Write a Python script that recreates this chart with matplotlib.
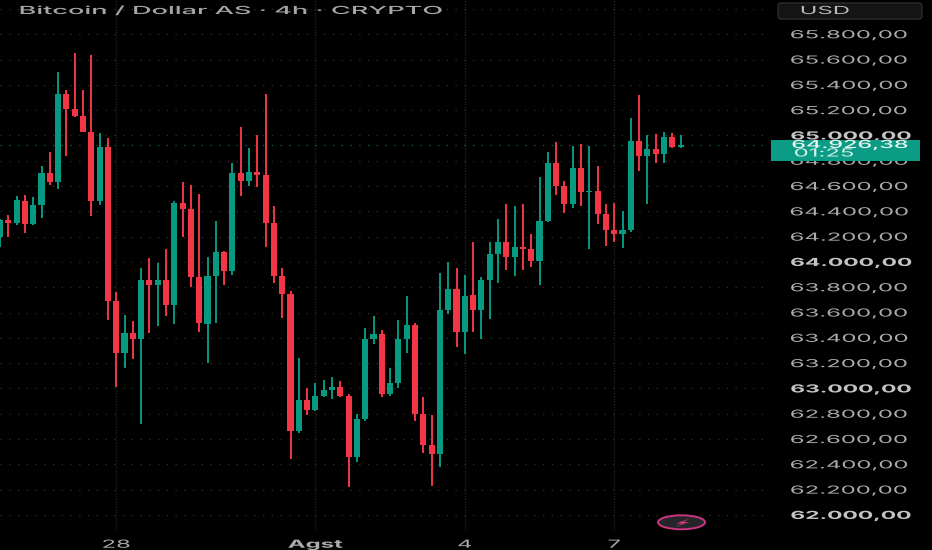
import matplotlib
matplotlib.use('Agg')
import matplotlib.pyplot as plt
import matplotlib.patheffects as pe
from matplotlib.patches import Ellipse, FancyBboxPatch, Polygon
from matplotlib.transforms import Affine2D

plt.rcParams['font.family'] = ['Inter', 'DejaVu Sans']

opens = [64200, 64330, 64310, 64480, 64300, 64450, 64700, 64630, 65330, 65210,
         65150, 65030, 64480, 64910, 63690, 63280, 63440, 63390, 63860, 63820,
         63860, 63660, 64470, 64420, 63880, 63510, 63890, 64080, 63930, 64700,
         64640, 64710, 64690, 64310, 63890, 63750, 62660, 62910, 62830, 62940,
         62990, 63010, 62940, 62460, 62760, 63390, 63430, 62960, 63040, 63390,
         63500, 62800, 62550, 62480, 63620, 63790, 63450, 63740, 63620, 63860,
         64060, 64160, 64040, 64120, 64100, 64010, 64320, 64780, 64600, 64460,
         64740, 64550, 64560, 64380, 64250, 64220, 64250, 64960, 64840, 64890,
         64850, 64990, 64910]
closes = [64330, 64310, 64490, 64300, 64450, 64700, 64630, 65330, 65210, 65150,
          65030, 64480, 64910, 63690, 63280, 63440, 63390, 63860, 63820, 63860,
          63660, 64470, 64420, 63880, 63520, 63890, 64080, 63930, 64700, 64640,
          64710, 64690, 64310, 63890, 63750, 62660, 62910, 62830, 62940, 62990,
          63010, 62940, 62460, 62760, 63390, 63430, 62960, 63040, 63390, 63500,
          62800, 62550, 62480, 63620, 63790, 63450, 63730, 63620, 63860, 64060,
          64160, 64040, 64120, 64100, 64010, 64320, 64780, 64600, 64460, 64740,
          64550, 64560, 64380, 64250, 64220, 64250, 64960, 64840, 64890, 64850,
          64990, 64910, 64926]
highs = [64340, 64370, 64520, 64530, 64510, 64760, 64870, 65500, 65360, 65650,
         65360, 65640, 65020, 64980, 63760, 63580, 63530, 63950, 64030, 63990,
         64100, 64480, 64630, 64610, 64540, 64040, 64320, 64090, 64780, 65070,
         64900, 65000, 65330, 64440, 63950, 63770, 63240, 63000, 63040, 63070,
         63090, 63060, 62960, 62800, 63480, 63570, 63460, 63160, 63540, 63730,
         63520, 62930, 62790, 63910, 64000, 63950, 63900, 64160, 63880, 64160,
         64340, 64460, 64440, 64460, 64220, 64670, 64870, 64950, 64640, 64920,
         64930, 64920, 64760, 64460, 64470, 64400, 65140, 65320, 65000, 65010,
         65030, 65020, 65000]
lows = [64120, 64200, 64290, 64230, 64290, 64350, 64610, 64580, 64840, 65145,
        65025, 64360, 64450, 63540, 63010, 63160, 63230, 62720, 63440, 63490,
        63570, 63510, 64200, 63800, 63450, 63200, 63520, 63820, 63900, 64520,
        64600, 64590, 64120, 63830, 63560, 62440, 62650, 62790, 62820, 62930,
        62920, 62935, 62220, 62420, 62740, 63350, 62930, 62940, 63000, 63280,
        62740, 62490, 62230, 62380, 63590, 63330, 63270, 63450, 63390, 63550,
        63830, 63940, 63890, 63940, 63960, 63820, 64315, 64530, 64390, 64430,
        64440, 64100, 64300, 64130, 64160, 64110, 64240, 64720, 64460, 64780,
        64780, 64900, 64900]

price_ticks = list(range(62000, 66200, 200))
price_labels = ['%d.%03d,00' % (p // 1000, p % 1000) for p in price_ticks]
price_labels[-1] = ''
date_ticks = [14, 38, 56, 74]
date_labels = ['28', 'Agst', '4', '7']
last_price = 64926.38
last_label = '64.926,38'
countdown = '01:25'

GREEN = '#089981'
RED = '#F23645'
WIDE = 2.15
WIDE_BOLD = 2.05


class Stretch(pe.AbstractPathEffect):
    # the reference text is squeezed wide, scale the glyphs around their centre
    def __init__(self, sx):
        super().__init__()
        self.sx = sx

    def draw_path(self, renderer, gc, tpath, affine, rgbFace=None):
        box = tpath.get_extents()
        cx = (box.x0 + box.x1) / 2
        wide = Affine2D().translate(-cx, 0).scale(self.sx, 1).translate(cx, 0)
        renderer.draw_path(gc, tpath, wide + affine, rgbFace)


fig = plt.figure(figsize=(9.32, 5.5), dpi=100, facecolor='black')
ax = fig.add_axes([0, 20 / 550, 770 / 932, 530 / 550], facecolor='black')
ax.set_xlim(0, 770 / 8.3)
ax.set_ylim(61881, 66071)
ax.set_axisbelow(True)
for s in ax.spines.values():
    s.set_visible(False)

ax.yaxis.tick_right()
ax.set_yticks(price_ticks, price_labels)
ax.set_xticks(date_ticks, date_labels)
ax.tick_params(axis='y', length=0, pad=37, labelsize=8, labelcolor='#ababab')
ax.tick_params(axis='x', length=0, pad=7, labelsize=8, labelcolor='#ababab')
ax.grid(axis='y', color='#303030', lw=0.9, ls=(0, (1, 6)))
ax.grid(axis='x', color='#1f1f1f', lw=1.0, ls=(0, (1, 1)))

for lab in ax.get_yticklabels() + ax.get_xticklabels():
    lab.set_path_effects([Stretch(WIDE)])
    if lab.get_text() in ('Agst',):
        lab.set_fontweight('bold')
for p, lab in zip(price_ticks, ax.get_yticklabels()):
    if p % 1000 == 0:
        lab.set_fontweight('bold')
        lab.set_color('#c4c4c4')
        lab.set_path_effects([Stretch(WIDE_BOLD)])

x = list(range(len(opens)))
colors = [GREEN if c >= o else RED for o, c in zip(opens, closes)]
ax.axhline(last_price, color=GREEN, lw=0.9, ls=(0, (1, 6)), alpha=0.7, zorder=1)
ax.vlines(x, lows, highs, colors=colors, lw=1.4, zorder=3)
ax.bar(x, [abs(c - o) for o, c in zip(opens, closes)],
       bottom=[min(o, c) for o, c in zip(opens, closes)],
       width=0.74, color=colors, zorder=4)

# overlays are placed in image pixels, y going down
px = Affine2D().scale(1, -1).translate(0, 550)

fig.add_artist(FancyBboxPatch((778, 3), 144, 16, boxstyle='round,pad=0,rounding_size=3',
                              fc='#141414', ec='#2c2c2c', lw=1, transform=px))
fig.add_artist(FancyBboxPatch((771, 139.5), 149, 21, boxstyle='square,pad=0',
                              fc='#0a9c84', ec='none', transform=px))
fig.add_artist(Ellipse((681.5, 522.3), 47, 14, fc='#26262a', ec='#c9357f', lw=1.4, transform=px))
fig.add_artist(Polygon([(690, 518.5), (676, 523.5), (682, 523.5), (674.5, 527),
                        (689, 522), (683, 522)], closed=True, fc='#d8387f', ec='none',
                       transform=px))


def label(xc, yc, s, color, weight='normal', sx=WIDE):
    t = fig.text(xc, yc, s, color=color, fontsize=8, fontweight=weight,
                 ha='center', va='center', transform=px)
    t.set_path_effects([Stretch(sx)])


label(231, 11, 'Bitcoin / Dollar AS · 4h · CRYPTO', '#a6a6a6', 'medium', sx=2.44)
label(825, 11, 'USD', '#b8b8b8')
label(850, 145, last_label, '#e8f5f2', 'medium', sx=2.1)
label(824, 153.5, countdown, '#d8efea')

fig.savefig('out.png', dpi=100, facecolor='black')
